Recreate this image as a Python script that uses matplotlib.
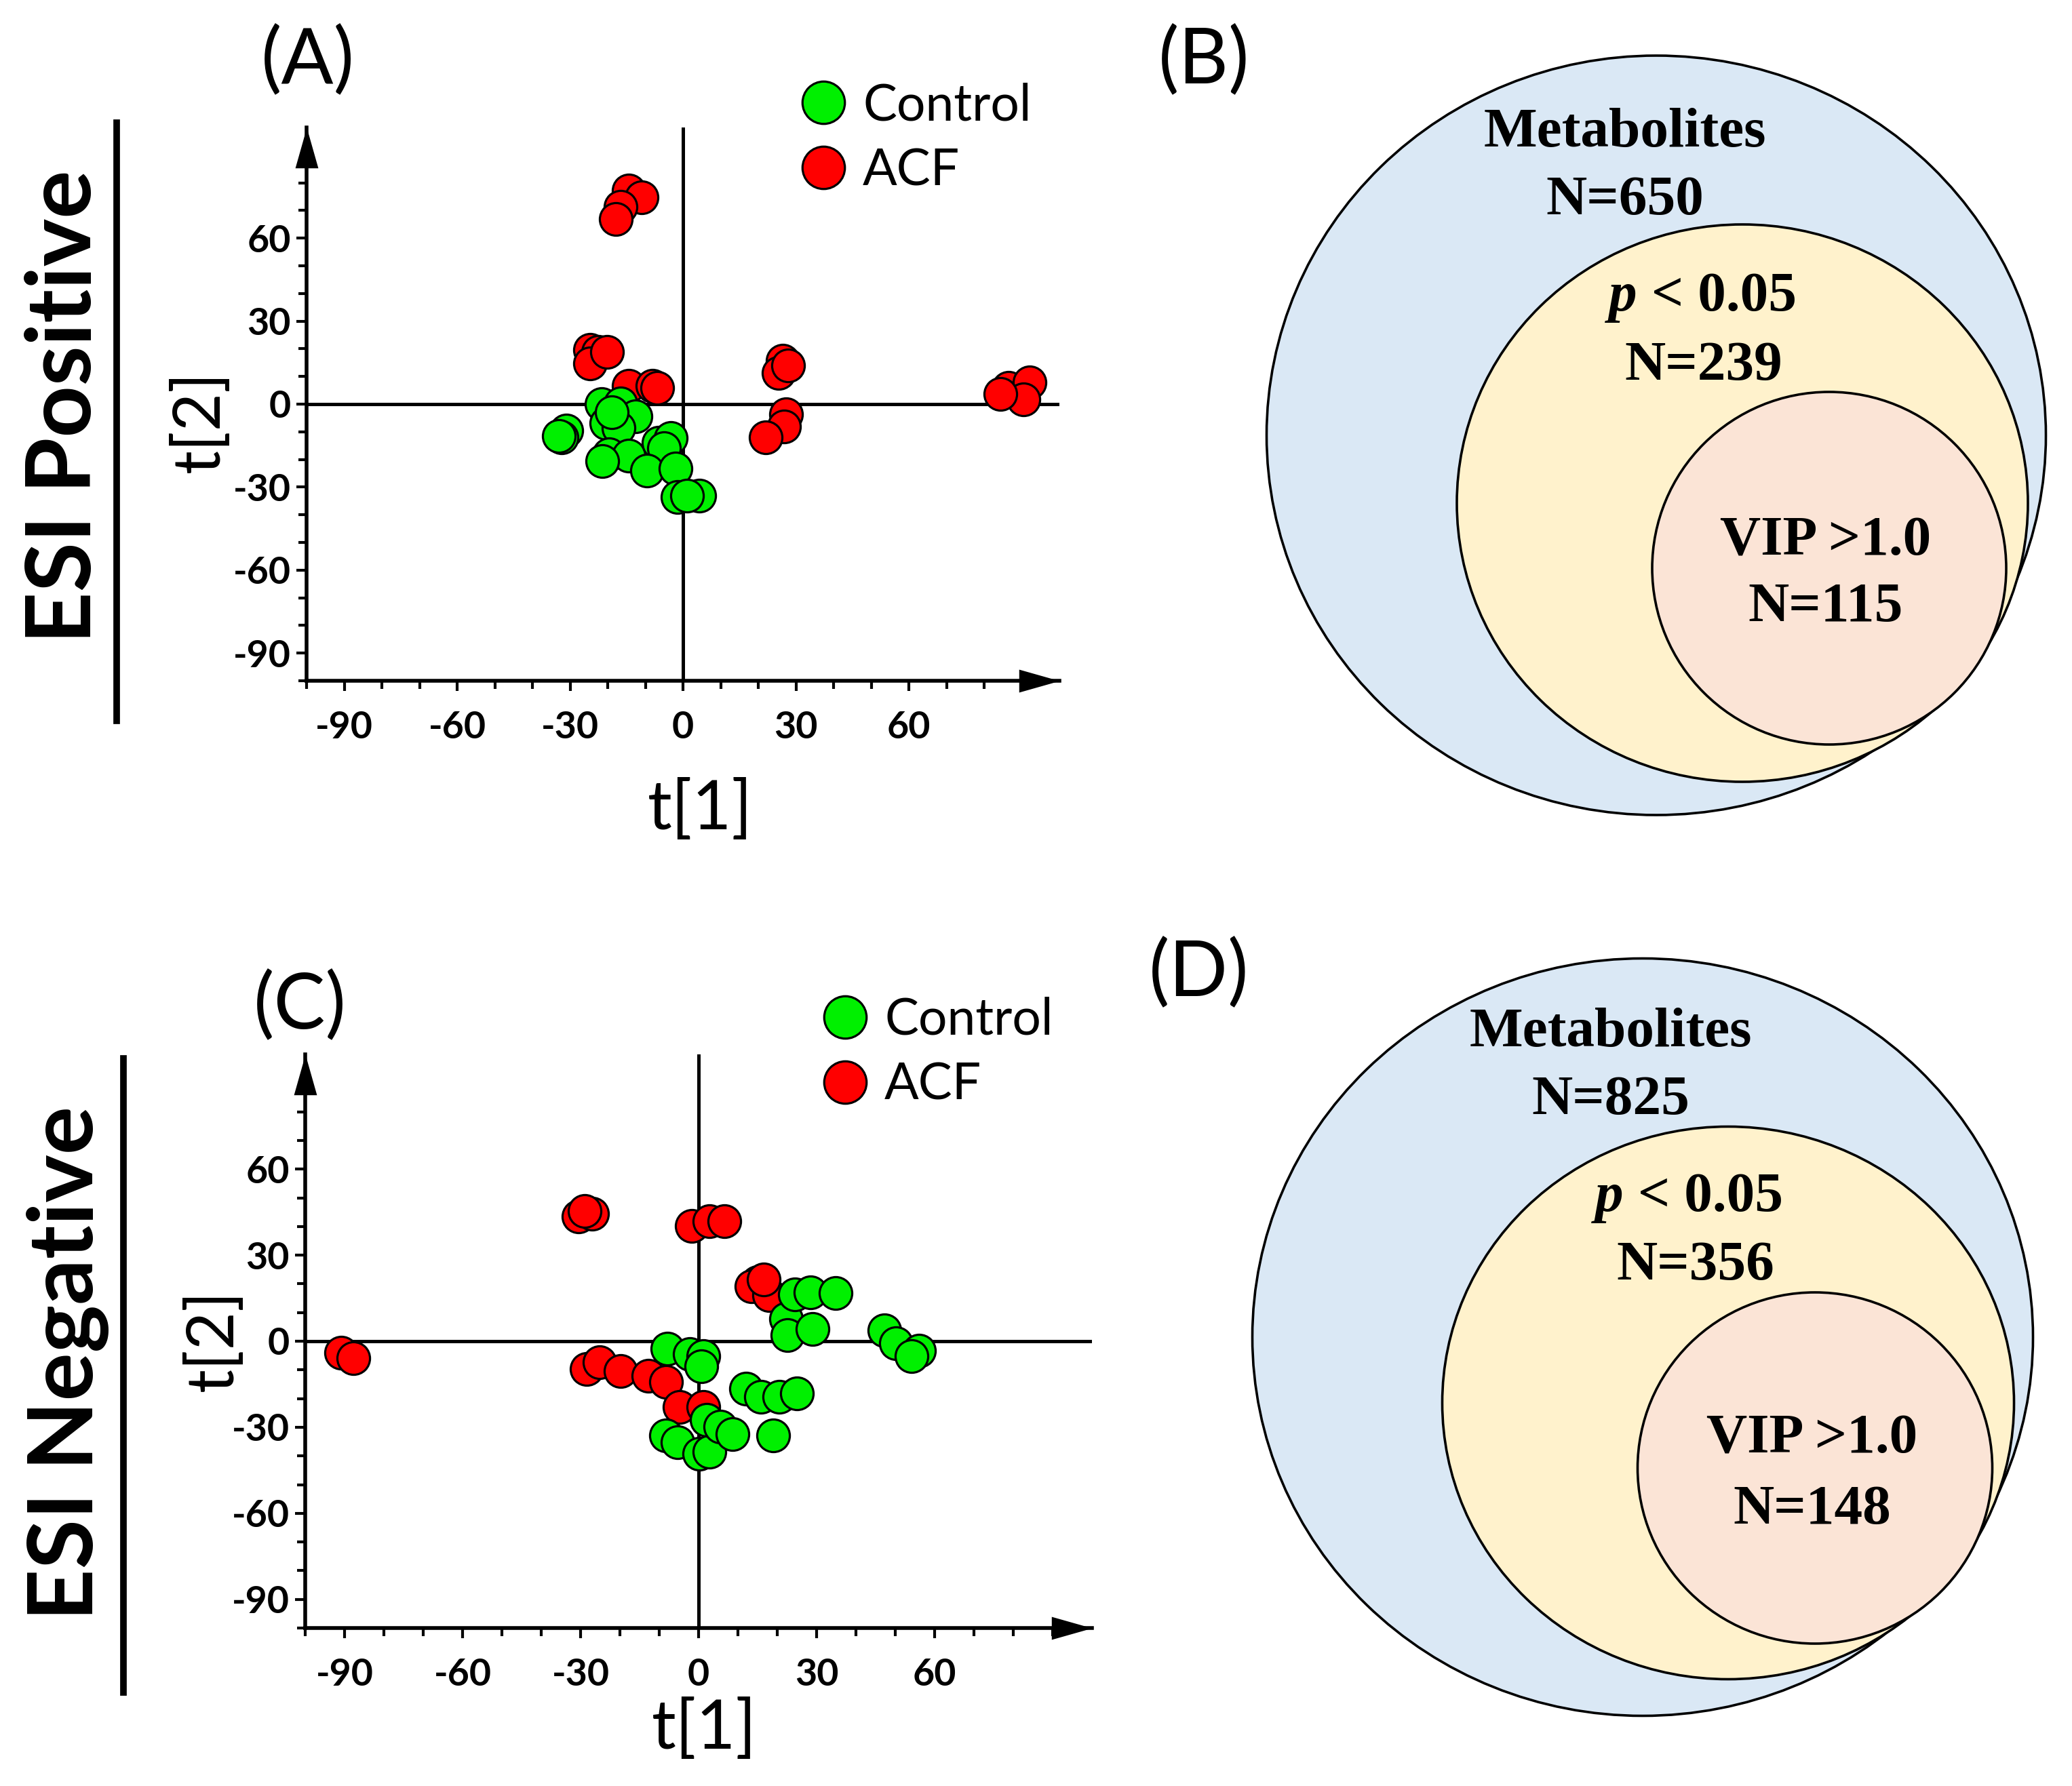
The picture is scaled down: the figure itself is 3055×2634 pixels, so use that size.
import matplotlib
matplotlib.use('Agg')
import matplotlib.pyplot as plt
from matplotlib.patches import Ellipse
from matplotlib.lines import Line2D
import numpy as np

plt.rcParams['font.family'] = ['Lato', 'DejaVu Sans']
plt.rcParams['axes.unicode_minus'] = False

W, H = 3055, 2634

# PCA scores, ESI positive
ctrl_pos_x = [-31.0, -32.3, -33.0, -21.6, -16.5, -12.7, -20.3, -17.1, -19.0, -19.6,
              -14.5, -21.5, -6.4, -3.3, -5.0, -9.5, -2.0, -1.4, 4.3, 1.0]
ctrl_pos_y = [-9.5, -12.1, -11.5, 0.0, 0.2, -4.4, -6.9, -8.6, -3.0, -18.1,
              -18.6, -20.6, -13.9, -12.2, -16.0, -24.1, -23.4, -33.6, -33.1, -33.0]
acf_pos_x = [-14.4, -11.0, -16.5, -17.8, -24.7, -22.6, -24.7, -20.1, -14.4, -8.1, -6.8,
             26.4, 25.4, 28.0, 27.4, 26.9, 22.0, 86.4, 92.0, 90.5, 84.3]
acf_pos_y = [77.3, 74.8, 71.3, 67.0, 19.7, 18.9, 14.6, 18.9, 6.5, 6.5, 6.0,
             15.8, 11.2, 14.0, -3.6, -8.1, -12.1, 5.9, 7.9, 1.7, 3.7]

# PCA scores, ESI negative
ctrl_neg_x = [-7.9, -2.3, 1.2, 0.7, 22.2, 22.5, 28.9, 24.4, 28.4, 34.8, 47.2, 50.2, 56.1,
              54.1, 12.1, 15.8, 20.5, 25.0, 19.0, -8.2, -5.3, 0.2, 2.7, 2.0, 5.6, 8.6]
ctrl_neg_y = [-2.6, -4.6, -5.3, -8.7, 7.8, 2.1, 4.2, 16.4, 17.1, 16.8, 3.8, -0.6, -3.3,
              -5.3, -16.6, -19.3, -19.3, -18.2, -32.9, -32.9, -35.2, -39.2, -38.6, -27.4, -29.8, -32.5]
acf_neg_x = [-90.9, -87.7, -30.5, -27.0, -29.0, -1.8, 2.7, 6.6, 15.0, 13.5, 18.0, 16.5,
             -28.5, -25.1, -19.8, -12.7, -8.2, -4.8, 1.2]
acf_neg_y = [-4.0, -6.0, 43.5, 44.5, 45.5, 40.1, 41.8, 41.9, 20.5, 19.1, 16.0, 21.5,
             -9.8, -7.4, -10.3, -12.1, -14.1, -23.0, -23.0]

# metabolite counts (outer, p<0.05, VIP>1.0)
counts_pos = [650, 239, 115]
counts_neg = [825, 356, 148]

green = '#00f000'
red = '#ff0000'


def rect(x0, y0, x1, y1):
    return [x0 / W, 1 - y1 / H, (x1 - x0) / W, (y1 - y0) / H]


def ftext(x, y, s, **kw):
    fig.text(x / W, 1 - y / H, s, **kw)


fig = plt.figure(figsize=(W / 100, H / 100), dpi=100)


def score_plot(ax, cx, cy, ax_x, ax_y, leg_xy, ylab_xy, xlab_xy):
    ax.scatter(ax_x, ax_y, s=1200, c=red, edgecolors='k', linewidths=2.3, zorder=3)
    ax.scatter(cx, cy, s=1200, c=green, edgecolors='k', linewidths=2.3, zorder=4)
    ax.axhline(0, color='k', lw=3.6, zorder=1)
    ax.axvline(0, color='k', lw=3.6, zorder=1)
    ax.set_xlim(-100, 100)
    ax.set_ylim(-100, 100)
    for s in ['top', 'right']:
        ax.spines[s].set_visible(False)
    for s in ['left', 'bottom']:
        ax.spines[s].set_linewidth(4.0)
    ax.set_xticks([-90, -60, -30, 0, 30, 60])
    ax.set_yticks([-90, -60, -30, 0, 30, 60])
    ax.set_xticks(np.arange(-100, 91, 10), minor=True)
    ax.set_yticks(np.arange(-100, 81, 10), minor=True)
    ax.tick_params(which='major', length=10.8, width=3.0, labelsize=40)
    ax.tick_params(which='minor', length=8.6, width=3.0)
    ax.tick_params(axis='x', pad=21)
    ax.tick_params(axis='y', pad=6)
    for lab in ax.get_xticklabels() + ax.get_yticklabels():
        lab.set_fontweight('bold')
    # arrow heads at the axis ends
    ax.plot(1, 0, marker=[(0, 0), (-60, -17), (-60, 17), (0, 0)], ms=86, mew=0,
            color='k', transform=ax.transAxes, clip_on=False)
    ax.plot(0, 1, marker=[(0, 0), (-17, -60), (17, -60), (0, 0)], ms=86, mew=0,
            color='k', transform=ax.transAxes, clip_on=False)
    ax.text(*ylab_xy, 't[2]', transform=ax.transAxes, rotation=90, ha='center',
            va='center', fontsize=70)
    ax.text(*xlab_xy, 't[1]', transform=ax.transAxes, ha='center', va='center',
            fontsize=72)
    handles = [Line2D([], [], marker='o', ls='', mfc=green, mec='k', mew=2.3, ms=45),
               Line2D([], [], marker='o', ls='', mfc=red, mec='k', mew=2.3, ms=45)]
    ax.legend(handles, ['Control', 'ACF'], loc='upper left',
              bbox_to_anchor=(leg_xy[0] / W, 1 - leg_xy[1] / H),
              bbox_transform=fig.transFigure, frameon=False, fontsize=54,
              borderpad=0, borderaxespad=0, handlelength=1.0, handletextpad=0.28,
              labelspacing=0.36)


axA = fig.add_axes(rect(452, 188, 1562, 1004))
score_plot(axA, ctrl_pos_x, ctrl_pos_y, acf_pos_x, acf_pos_y, (1176, 121),
           (-0.141, 0.469), (0.5225, -0.233))
axC = fig.add_axes(rect(450, 1555, 1610, 2401))
score_plot(axC, ctrl_neg_x, ctrl_neg_y, acf_neg_x, acf_neg_y, (1208, 1470),
           (-0.116, 0.502), (0.507, -0.176))

ftext(454, 90, '(A)', ha='center', va='center', fontsize=82)
ftext(442, 1484, '(C)', ha='center', va='center', fontsize=82)
ftext(1775, 90, '(B)', ha='center', va='center', fontsize=82)
ftext(1768, 1436, '(D)', ha='center', va='center', fontsize=82)

ftext(96, 600, 'ESI Positive', rotation=90, ha='center', va='center',
      fontsize=96, fontweight='bold')
ftext(100, 2011, 'ESI Negative', rotation=90, ha='center', va='center',
      fontsize=96, fontweight='bold')
fig.add_artist(Line2D([172 / W, 172 / W], [1 - 181 / H, 1 - 1063 / H], color='k', lw=7))
fig.add_artist(Line2D([182 / W, 182 / W], [1 - 1561 / H, 1 - 2496 / H], color='k', lw=7))


def venn(ax, geo, counts, text_pos):
    colors = ['#dae8f5', '#fff2cc', '#fbe4d6']
    for (cx, cy, w, h), c in zip(geo, colors):
        ax.add_patch(Ellipse((cx, cy), w, h, facecolor=c, edgecolor='k', lw=2.6))
    serif = dict(family='Liberation Serif', fontweight='bold', fontsize=60,
                 va='baseline')
    (x1, y1a, y1b), (xs, x2, y2a, y2b), (x3, y3a, y3b) = text_pos
    ax.text(x1, y1a, 'Metabolites', ha='center', **serif)
    ax.text(x1, y1b, 'N=%d' % counts[0], ha='center', **serif)
    ax.text(xs, y2a, 'p', ha='right', style='italic', **serif)
    ax.text(xs, y2a, ' < 0.05', ha='left', **serif)
    ax.text(x2, y2b, 'N=%d' % counts[1], ha='center', **serif)
    ax.text(x3, y3a, 'VIP >1.0', ha='center', **serif)
    ax.text(x3, y3b, 'N=%d' % counts[2], ha='center', **serif)
    ax.axis('off')


axB = fig.add_axes(rect(1800, 0, 3055, 1300))
axB.set_xlim(1800, 3055)
axB.set_ylim(1300, 0)
venn(axB, [(2442, 642, 1149, 1120), (2569, 742, 842, 822), (2697, 838, 522, 520)],
     counts_pos, [(2396, 216, 316), (2414, 2512, 458, 560), (2692, 818, 916)])

axD = fig.add_axes(rect(1800, 1330, 3055, 2634))
axD.set_xlim(1800, 3055)
axD.set_ylim(2634, 1330)
venn(axD, [(2422, 1972, 1151, 1117), (2548, 2069, 843, 815), (2676, 2165, 523, 518)],
     counts_neg, [(2375, 1543, 1643), (2394, 2500, 1786, 1887), (2672, 2143, 2247)])

fig.savefig('out.png', dpi=100)
